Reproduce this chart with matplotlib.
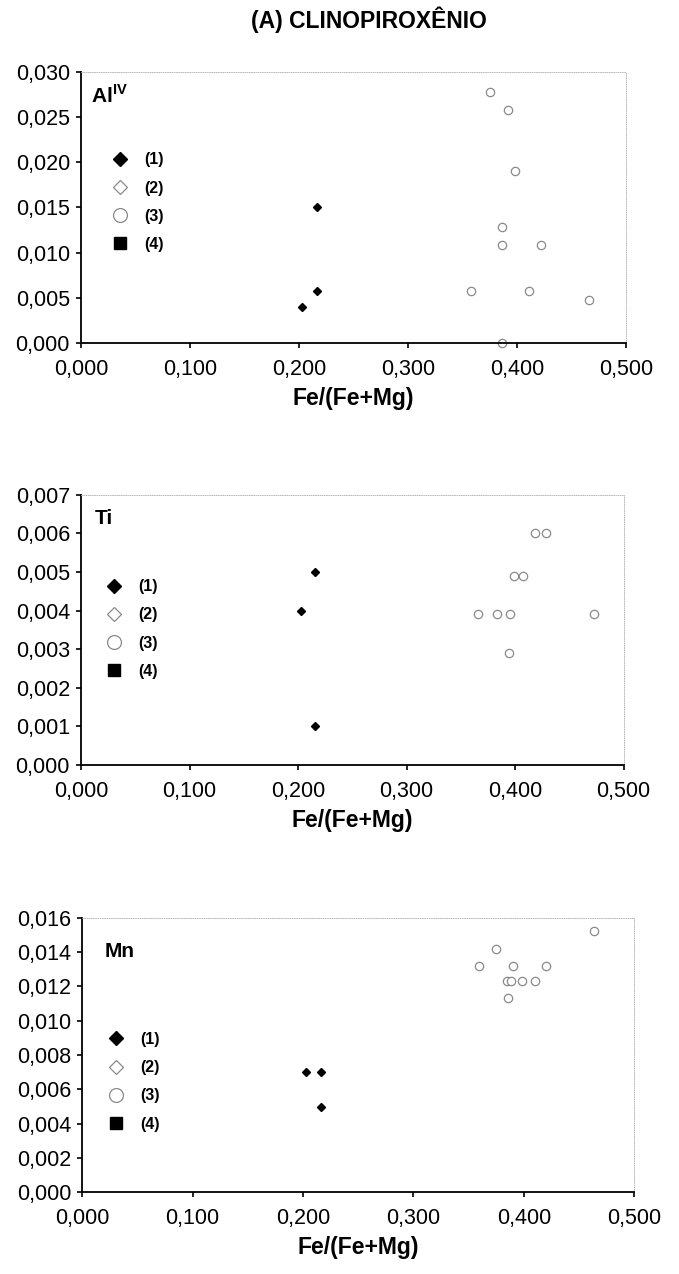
import matplotlib
matplotlib.use("Agg")
import matplotlib.pyplot as plt
from matplotlib.ticker import FuncFormatter

plt.rcParams['font.family'] = ['Liberation Sans', 'DejaVu Sans']

# -----------------------------
# Data
# -----------------------------
# group (1): black diamonds, group (3): open circles
al_fe_1 = [0.216, 0.216, 0.203]
al_val_1 = [0.015, 0.0058, 0.004]
al_fe_3 = [0.375, 0.392, 0.398, 0.3865, 0.3865, 0.422, 0.358, 0.411, 0.466, 0.3865]
al_val_3 = [0.0278, 0.0258, 0.019, 0.0128, 0.0108, 0.0108, 0.0058, 0.0058, 0.0048, 0.0]

ti_fe_1 = [0.2155, 0.2025, 0.2155]
ti_val_1 = [0.005, 0.004, 0.001]
ti_fe_3 = [0.4185, 0.429, 0.399, 0.407, 0.366, 0.383, 0.395, 0.473, 0.394]
ti_val_3 = [0.006, 0.006, 0.0049, 0.0049, 0.0039, 0.0039, 0.0039, 0.0039, 0.0029]

mn_fe_1 = [0.203, 0.216, 0.216]
mn_val_1 = [0.007, 0.007, 0.005]
mn_fe_3 = [0.4635, 0.375, 0.359, 0.3905, 0.4205, 0.385, 0.388, 0.3985, 0.410, 0.386]
mn_val_3 = [0.0152, 0.0142, 0.0132, 0.0132, 0.0132, 0.0123, 0.0123, 0.0123, 0.0123, 0.0113]

legend_labels = ["(1)", "(2)", "(3)", "(4)"]
x_ticks = [0.0, 0.1, 0.2, 0.3, 0.4, 0.5]

panels = [
    # name, x1, y1, x3, y3, ymax, ystep, axes rect, label pos, legend anchor
    ("Al$^{\\mathregular{IV}}$", al_fe_1, al_val_1, al_fe_3, al_val_3, 0.030, 0.005,
     [0.1193, 0.7308, 0.803, 0.2129], (0.018, 0.914), (0.050, 0.703)),
    ("Ti", ti_fe_1, ti_val_1, ti_fe_3, ti_val_3, 0.007, 0.001,
     [0.1193, 0.3998, 0.799, 0.2117], (0.026, 0.914), (0.0385, 0.688)),
    ("Mn", mn_fe_1, mn_val_1, mn_fe_3, mn_val_3, 0.016, 0.002,
     [0.1212, 0.0641, 0.8128, 0.2156], (0.040, 0.876), (0.040, 0.584)),
]

comma = FuncFormatter(lambda v, pos: f"{v:.3f}".replace(".", ","))

fig = plt.figure(figsize=(6.79, 12.74), dpi=100)
fig.text(369 / 679, 1 - 20 / 1274, "(A) CLINOPIROXÊNIO", ha="center", va="center",
         fontsize=16.5, fontweight="bold")

for name, x1, y1, x3, y3, ymax, ystep, rect, lab_pos, leg_pos in panels:
    ax = fig.add_axes(rect)
    ax.plot(x1, y1, linestyle="none", marker="D", ms=4, color="black")
    ax.plot(x3, y3, linestyle="none", marker="o", ms=6, mfc="white",
            mec="#8a8a8a", mew=0.9, clip_on=False)

    ax.set_xlim(0, 0.5)
    ax.set_ylim(0, ymax)
    ax.set_xticks(x_ticks)
    n = int(round(ymax / ystep))
    ax.set_yticks([i * ystep for i in range(n + 1)])
    ax.xaxis.set_major_formatter(comma)
    ax.yaxis.set_major_formatter(comma)
    ax.tick_params(axis="both", labelsize=15.5, direction="out", length=3.5, width=1.2)
    ax.tick_params(axis="x", pad=8)
    ax.tick_params(axis="y", pad=4.5)

    for s in ["left", "bottom"]:
        ax.spines[s].set_linewidth(1.3)
    for s in ["top", "right"]:
        ax.spines[s].set_linewidth(0.6)
        ax.spines[s].set_color("#b0b0b0")
        ax.spines[s].set_linestyle(":")

    ax.set_xlabel("Fe/(Fe+Mg)", fontsize=16.5, fontweight="bold", labelpad=5)
    ax.text(lab_pos[0], lab_pos[1], name, transform=ax.transAxes, fontsize=15,
            fontweight="bold", va="center")

    # legend handles (groups 2 and 4 have no points)
    h1, = ax.plot([], [], linestyle="none", marker="D", ms=7.5, color="black")
    h2, = ax.plot([], [], linestyle="none", marker="D", ms=7.5, mfc="white", mec="#8a8a8a", mew=0.9)
    h3, = ax.plot([], [], linestyle="none", marker="o", ms=10, mfc="white", mec="#8a8a8a", mew=0.9)
    h4, = ax.plot([], [], linestyle="none", marker="s", ms=9, color="black")
    ax.legend([h1, h2, h3, h4], legend_labels, loc="upper left", bbox_to_anchor=leg_pos,
              frameon=False, borderpad=0, borderaxespad=0,
              prop={"size": 11.5, "weight": "bold"}, labelspacing=0.83,
              handletextpad=0.75, handlelength=1.5)

fig.savefig("out.png", dpi=100)
